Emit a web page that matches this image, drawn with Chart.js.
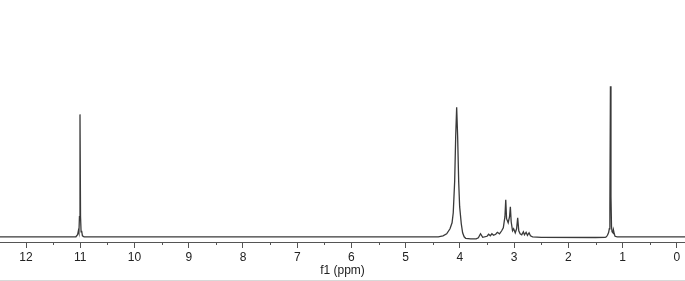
<!DOCTYPE html>
<html>
<head>
<meta charset="utf-8">
<script src="https://cdn.jsdelivr.net/npm/chart.js@4/dist/chart.umd.min.js"></script>
<style>
  html, body { margin:0; padding:0; background:#fff; }
  #wrap { width:685px; height:280px; border-bottom:1px solid #d8d8d8; }
  canvas { display:block; }
</style>
</head>
<body>
<div id="wrap"><canvas id="nmr" width="685" height="280"></canvas></div>
<script>
const ppm = [
  12.48, 11.30, 11.08, 11.05, 11.035, 11.025, 11.015, 11.005, 10.995, 10.985, 10.975, 10.96, 10.93,
  4.40, 4.312, 4.244, 4.183, 4.145, 4.123, 4.097, 4.078, 4.06, 4.042, 4.023, 4.005, 3.975, 3.95, 3.922, 3.894,
  3.80, 3.70, 3.66, 3.62, 3.58, 3.50, 3.47, 3.44, 3.41, 3.38, 3.34, 3.31, 3.27, 3.23, 3.20, 3.17,
  3.155, 3.14, 3.11, 3.085, 3.07, 3.055, 3.03, 3.01, 2.98, 2.955, 2.935, 2.915, 2.89, 2.86, 2.83,
  2.81, 2.78, 2.755, 2.725, 2.70, 2.66, 2.50,
  1.50, 1.32, 1.30, 1.28, 1.26, 1.245, 1.235, 1.225, 1.215, 1.205, 1.195, 1.18, 1.17, 1.155, 1.14, 1.10,
  0.50, -0.15
];
const intensity = [
  0, 0, 0, 2, 6, 4, 20, 122, 20, 5, 6, 1, 0,
  0, 1, 3, 8, 14, 24, 55, 100, 129, 100, 55, 30, 13, 4, 0, -1.5,
  -2, -2, -1, 3, -0.5, 0.5, 2.5, 1, 3, 1.5, 2.5, 4.5, 3, 6, 9, 20,
  37, 18, 14, 20, 30, 15, 6, 8, 4, 8, 19, 6, 3, 2, 5,
  2, 4.5, 1.5, 4, 1, 0, -0.5,
  -0.7, -0.5, 0, 1.5, 4, 8, 30, 150, 40, 10, 5, 4, 7, 3, 0.5, 0,
  0, 0
];

/* ===== Ejes ===== */
const majorTicks = [12, 11, 10, 9, 8, 7, 6, 5, 4, 3, 2, 1, 0];
const minorTicks = [11.5, 10.5, 9.5, 8.5, 7.5, 6.5, 5.5, 4.5, 3.5, 2.5, 1.5, 0.5];
const axisTitle = 'f1 (ppm)';

const axisFont = { family: 'Liberation Sans, Arial, sans-serif', size: 12, lineHeight: 1 };

// ticks menores (más cortos) sobre la escala x
const minorTickPlugin = {
  id: 'minorTicks',
  afterDraw(chart) {
    const sx = chart.scales.x;
    const ctx = chart.ctx;
    const y0 = chart.chartArea.bottom;
    ctx.save();
    ctx.strokeStyle = '#555';
    ctx.lineWidth = 1;
    ctx.beginPath();
    for (const v of minorTicks) {
      const px = Math.round(sx.getPixelForValue(v)) + 0.5;
      ctx.moveTo(px, y0);
      ctx.lineTo(px, y0 + 3);
    }
    ctx.stroke();
    ctx.restore();
  }
};

new Chart(document.getElementById('nmr').getContext('2d'), {
  type: 'line',
  data: {
    datasets: [{
      data: ppm.map((x, i) => ({ x, y: intensity[i] })),
      borderColor: '#3a3a3a',
      borderWidth: 1.3,
      pointRadius: 0,
      tension: 0,
      fill: false
    }]
  },
  options: {
    responsive: false,
    animation: false,
    devicePixelRatio: 1,
    layout: { padding: 0 },
    plugins: { legend: { display: false }, tooltip: { enabled: false } },
    scales: {
      x: {
        type: 'linear',
        reverse: true,
        min: -0.15,
        max: 12.48,
        afterBuildTicks: (s) => { s.ticks = majorTicks.map(v => ({ value: v })); },
        ticks: {
          autoSkip: false,
          maxRotation: 0,
          padding: 4,
          color: '#222',
          font: axisFont,
          callback: (v) => String(v)
        },
        grid: { display: true, drawOnChartArea: false, tickLength: 6, tickColor: '#555' },
        border: { display: true, color: '#555', width: 1 },
        title: { display: true, text: axisTitle, color: '#222', font: axisFont, padding: { top: -3, bottom: 3 } }
      },
      y: {
        display: false,
        min: -5.2,
        max: 236
      }
    }
  },
  plugins: [minorTickPlugin]
});
</script>
</body>
</html>
